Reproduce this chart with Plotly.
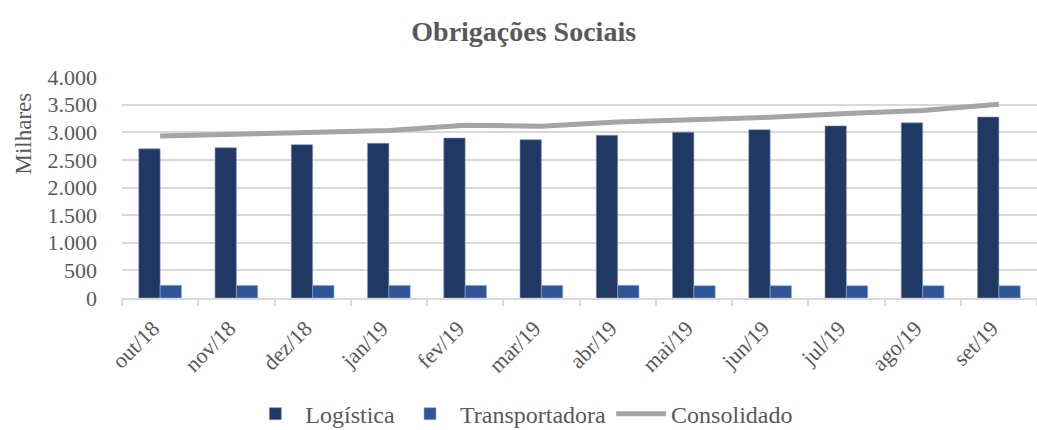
import plotly.graph_objects as go

categories = ["out/18", "nov/18", "dez/18", "jan/19", "fev/19", "mar/19",
              "abr/19", "mai/19", "jun/19", "jul/19", "ago/19", "set/19"]
logistica = [2700, 2720, 2775, 2800, 2895, 2865, 2945, 3000, 3045, 3115, 3170, 3275]
transportadora = [230, 228, 228, 228, 228, 228, 230, 222, 222, 222, 222, 222]
consolidado = [2930, 2960, 3010, 3030, 3125, 3110, 3185, 3230, 3270, 3340, 3395, 3505]

FONT = "Liberation Serif"
GRAY = "#595959"

fig = go.Figure()
fig.add_trace(go.Bar(x=categories, y=logistica, name="Logística",
                     marker=dict(color="#203864", line=dict(color="#8497b0", width=0.6))))
fig.add_trace(go.Bar(x=categories, y=transportadora, name="Transportadora",
                     marker=dict(color="#2F5597", line=dict(color="#8faadc", width=0.6))))
fig.add_trace(go.Scatter(x=categories, y=consolidado, name="Consolidado", mode="lines",
                         line=dict(color="#A5A5A5", width=5)))

fig.update_layout(
    width=1037, height=430,
    margin=dict(l=122, r=0, t=77, b=132, autoexpand=False),
    paper_bgcolor="white", plot_bgcolor="white",
    font=dict(family=FONT, color=GRAY, size=21),
    separators=",.",
    barmode="group", bargap=0.44, bargroupgap=0,
    title=dict(text="<b>Obrigações Sociais</b>", x=0.505, xanchor="center",
               y=1 - 31 / 430, yanchor="middle",
               font=dict(family=FONT, size=28, color=GRAY)),
    showlegend=True,
    legend=dict(orientation="h", x=0.437, xanchor="center",
                y=-0.525, yanchor="middle",
                font=dict(family="Liberation Serif", size=24, color=GRAY,
                          weight="normal", style="normal"),
                itemwidth=50, tracegroupgap=0),
    xaxis=dict(type="category", tickangle=-45, showgrid=False, automargin=False,
               showline=True, linecolor="#d9d9d9", linewidth=1.5,
               ticks="outside", tickson="boundaries", ticklen=6,
               tickcolor="#d9d9d9", tickwidth=1.5,
               ticklabelstandoff=7, ticklabelshift=-7,
               tickfont=dict(family=FONT, size=22, color=GRAY)),
    yaxis=dict(range=[0, 4000], dtick=500, tickformat=",d", automargin=False,
               showgrid=True, gridcolor="#d9d9d9", gridwidth=1.5,
               zeroline=False, showline=False, ticks="", ticklabelstandoff=24,
               tickfont=dict(family=FONT, size=22, color=GRAY)),
    annotations=[dict(text="Milhares", textangle=-90, xref="paper", yref="paper",
                      x=-0.108, y=0.745, xanchor="center", yanchor="middle",
                      showarrow=False, font=dict(family=FONT, size=23, color=GRAY))],
)

fig.write_html("out.html", config={"displayModeBar": False},
               post_script="document.body.style.margin='0';document.body.style.overflow='hidden';")
